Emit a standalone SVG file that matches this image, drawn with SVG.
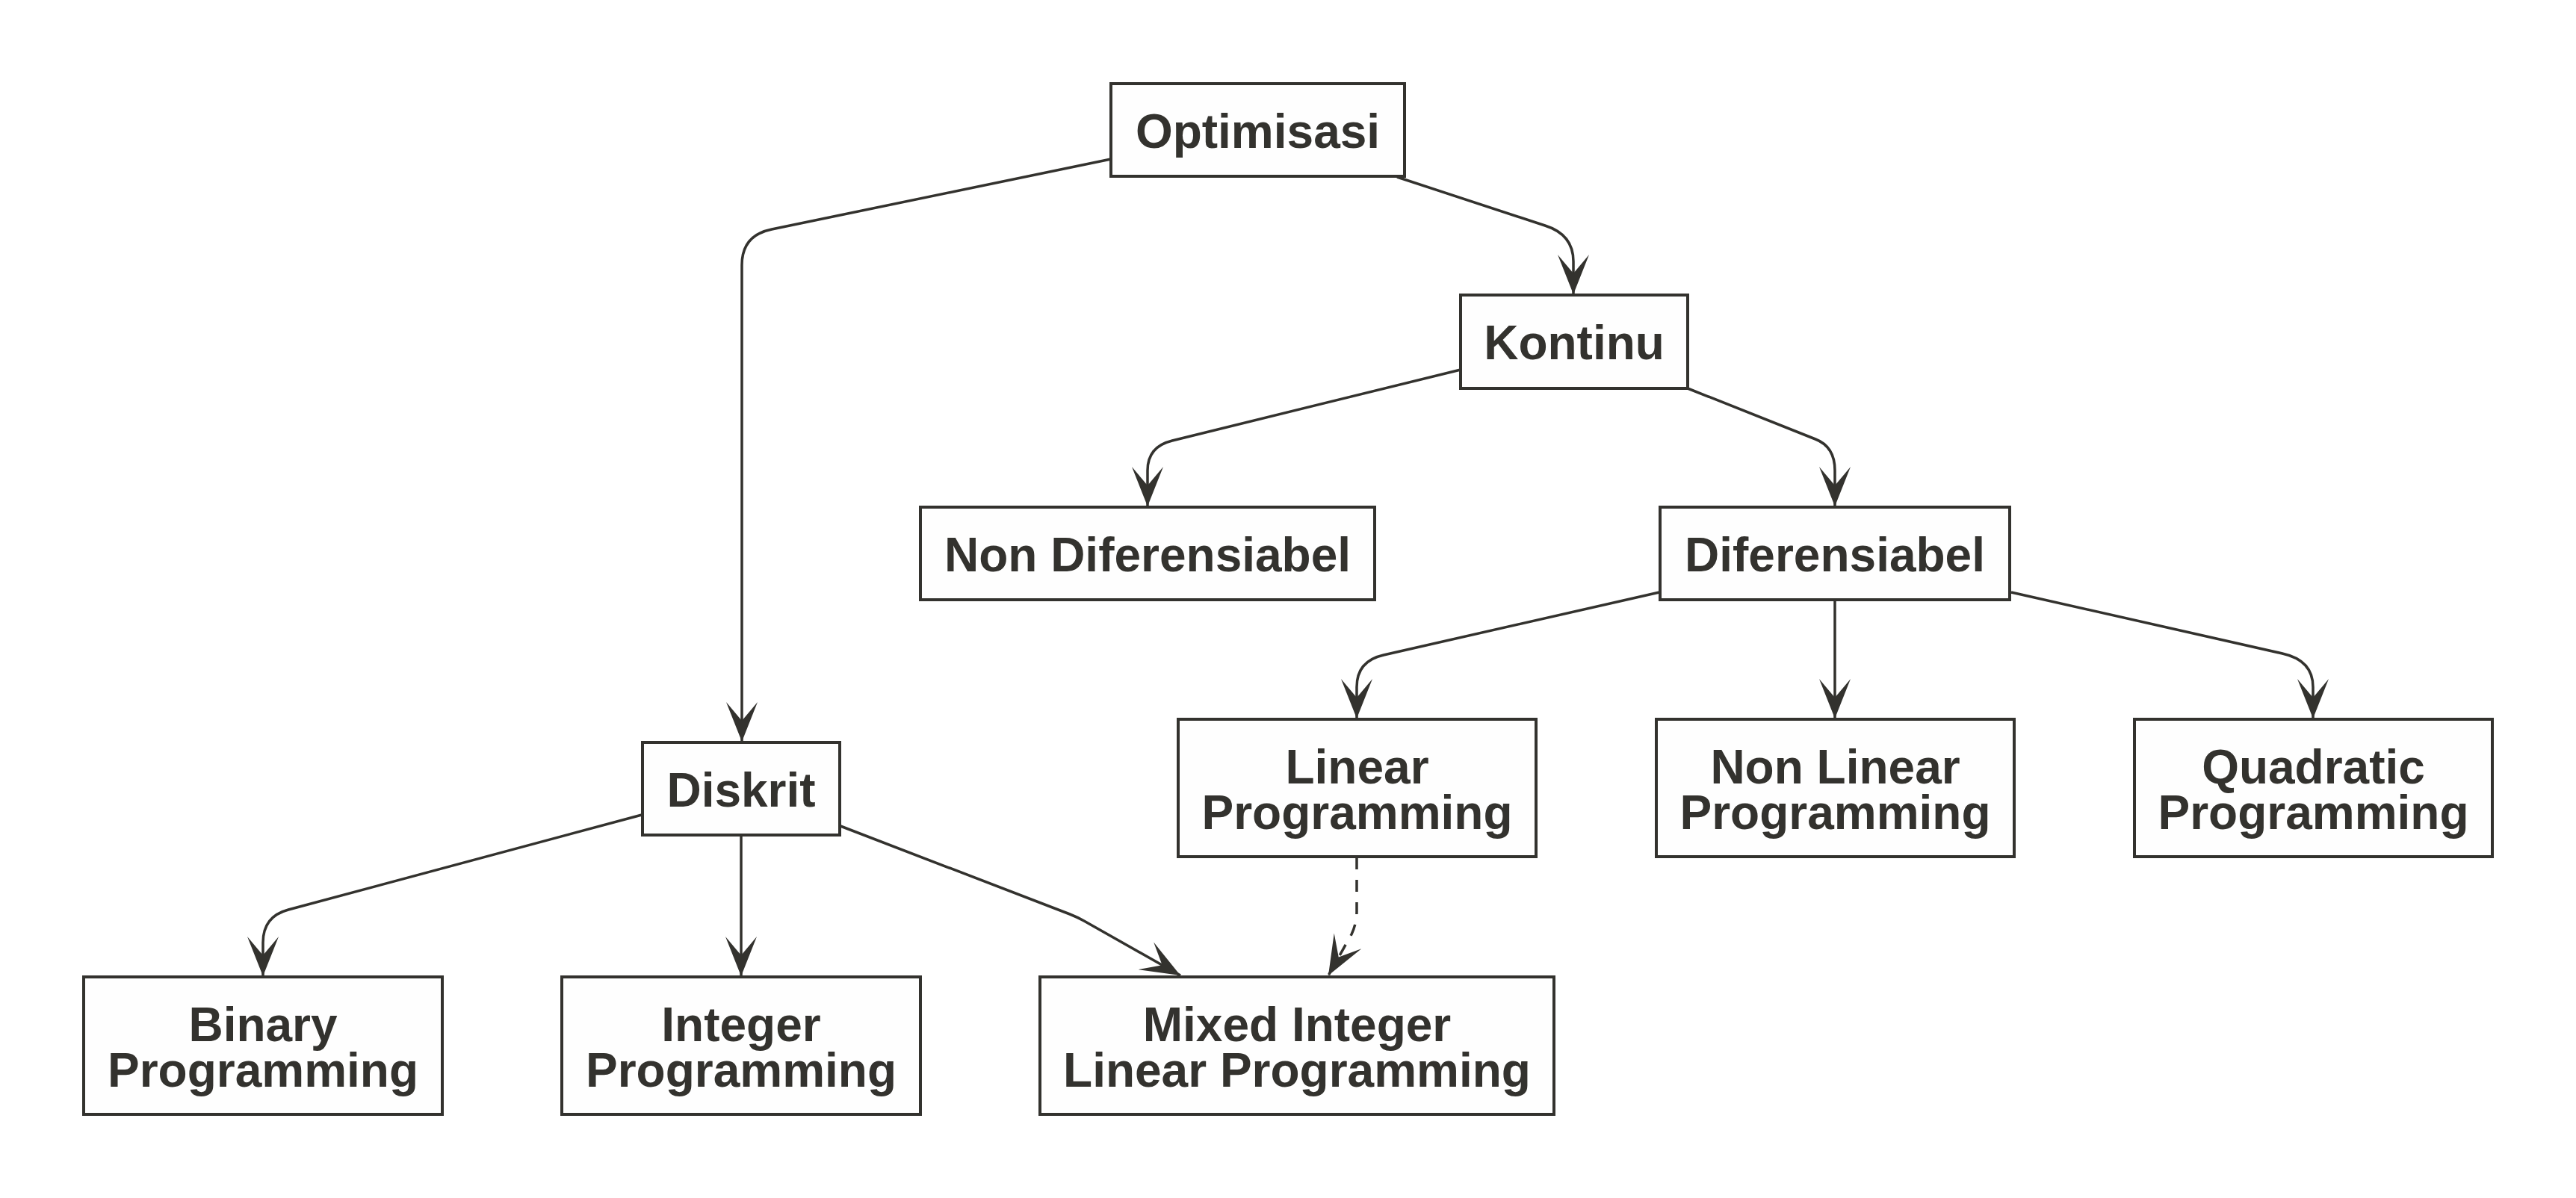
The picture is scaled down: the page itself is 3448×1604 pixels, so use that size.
<svg xmlns="http://www.w3.org/2000/svg" width="3448" height="1604" viewBox="0 0 3448 1604">
<defs>
<style>
.box{fill:#fefefe;stroke:#33322e;stroke-width:4}
.lbl{font-family:"Liberation Sans",Arial,Helvetica,sans-serif;font-weight:bold;font-size:64px;fill:#33322e;text-anchor:middle}
.edge{fill:none;stroke:#33322e;stroke-width:3.5;marker-end:url(#arr)}
.dash{stroke-dasharray:16 14}
</style>
<marker id="arr" viewBox="-56 -25 58 50" refX="0" refY="0" markerWidth="58" markerHeight="50" markerUnits="userSpaceOnUse" orient="auto">
<path d="M0,0 L-53,-21 L-28,0 L-53,21 Z" fill="#33322e"/>
</marker>
</defs>
<rect width="3448" height="1604" fill="#ffffff"/>
<g id="connectors">
<path class="edge" d="M1870,237 L2068,302 Q2106,314 2106,350 L2106,394"/>
<path class="edge" d="M1487,213 L1033,307 Q993,315 993,355 L993,993"/>
<path class="edge" d="M1955,495 L1569,590 Q1536,598 1536,630 L1536,678"/>
<path class="edge" d="M2259,520 L2430,588 Q2456,598 2456,630 L2456,678"/>
<path class="edge" d="M2221,793 L1852,877 Q1816,885 1816,920 L1816,962"/>
<path class="edge" d="M2456,803 L2456,962"/>
<path class="edge" d="M2692,793 L3055,875 Q3096,884 3096,920 L3096,962"/>
<path class="edge" d="M859,1091 L386,1218 Q352,1227 352,1262 L352,1307"/>
<path class="edge" d="M992,1118 L992,1307"/>
<path class="edge" d="M1125,1106 L1432,1224 Q1442,1228 1451,1233 L1580,1306"/>
<path class="edge dash" d="M1816,1148 L1816,1220 Q1816,1236 1809,1251 L1778,1306"/>
</g>
<g id="optimisasi"><rect class="box" x="1487" y="112" width="393" height="124"/><text class="lbl" x="1683.5" y="198">Optimisasi</text></g>
<g id="kontinu"><rect class="box" x="1955" y="395" width="304" height="125"/><text class="lbl" x="2107" y="481">Kontinu</text></g>
<g id="non-diferensiabel"><rect class="box" x="1232" y="679" width="608" height="124"/><text class="lbl" x="1536" y="765">Non Diferensiabel</text></g>
<g id="diferensiabel"><rect class="box" x="2222" y="679" width="468" height="124"/><text class="lbl" x="2456" y="765">Diferensiabel</text></g>
<g id="linear-programming"><rect class="box" x="1577" y="963" width="479" height="184"/><text class="lbl" x="1816.5" y="1049">Linear</text><text class="lbl" x="1816.5" y="1110">Programming</text></g>
<g id="non-linear-programming"><rect class="box" x="2217" y="963" width="479" height="184"/><text class="lbl" x="2456.5" y="1049">Non Linear</text><text class="lbl" x="2456.5" y="1110">Programming</text></g>
<g id="quadratic-programming"><rect class="box" x="2857" y="963" width="479" height="184"/><text class="lbl" x="3096.5" y="1049">Quadratic</text><text class="lbl" x="3096.5" y="1110">Programming</text></g>
<g id="diskrit"><rect class="box" x="860" y="994" width="264" height="124"/><text class="lbl" x="992" y="1080">Diskrit</text></g>
<g id="binary-programming"><rect class="box" x="112" y="1308" width="480" height="184"/><text class="lbl" x="352" y="1394">Binary</text><text class="lbl" x="352" y="1455">Programming</text></g>
<g id="integer-programming"><rect class="box" x="752" y="1308" width="480" height="184"/><text class="lbl" x="992" y="1394">Integer</text><text class="lbl" x="992" y="1455">Programming</text></g>
<g id="mixed-integer-linear-programming"><rect class="box" x="1392" y="1308" width="688" height="184"/><text class="lbl" x="1736" y="1394">Mixed Integer</text><text class="lbl" x="1736" y="1455">Linear Programming</text></g>
</svg>
